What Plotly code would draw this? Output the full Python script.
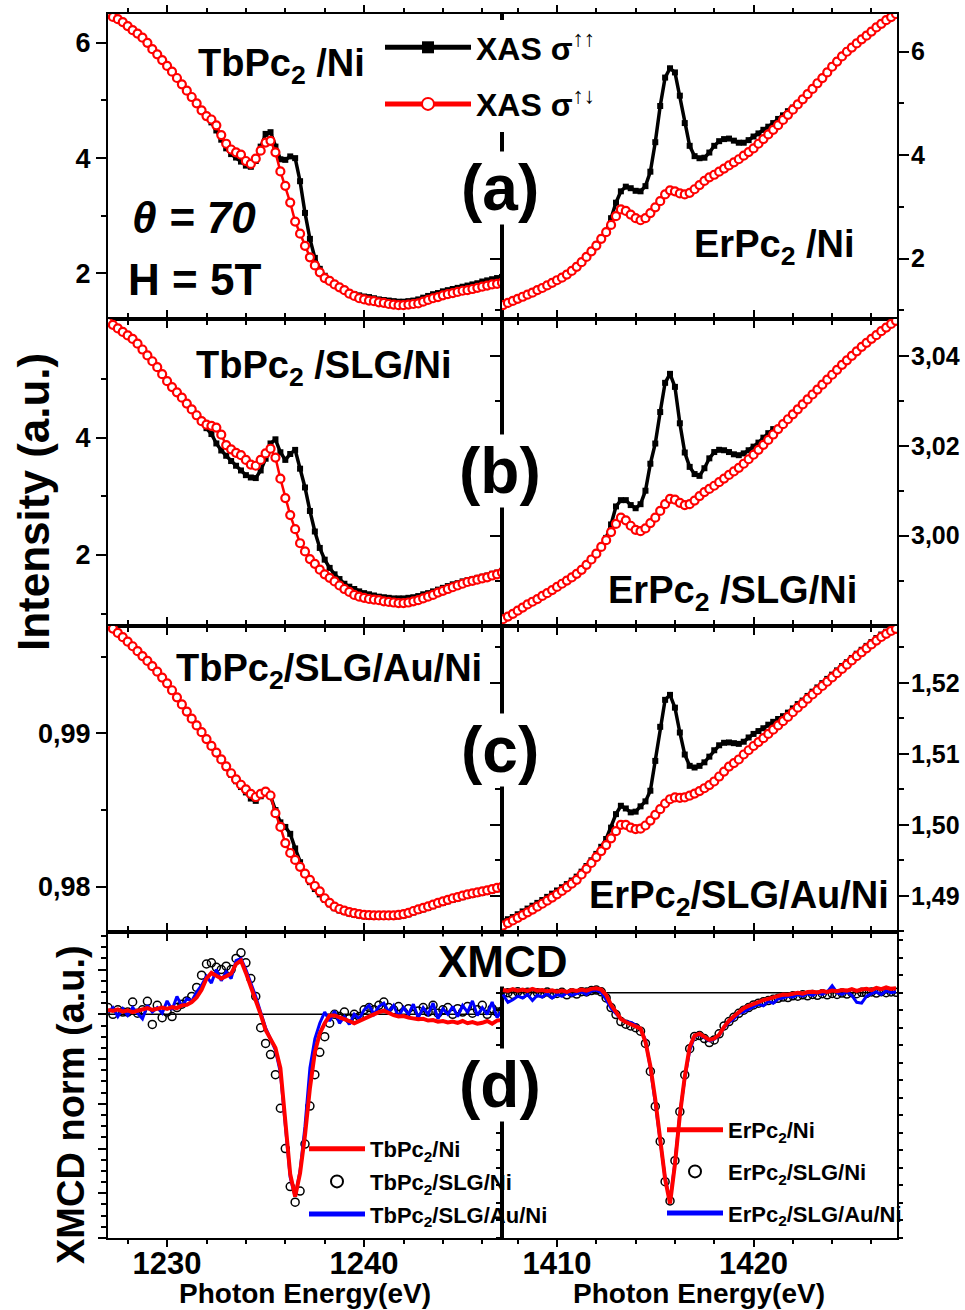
import plotly.graph_objects as go

# ---------------- data ----------------
E_TB = [
    1227.0, 1227.25, 1227.5, 1227.75, 1228.0, 1228.25, 1228.5, 1228.75,
    1229.0, 1229.25, 1229.5, 1229.75, 1230.0, 1230.25, 1230.5, 1230.75,
    1231.0, 1231.25, 1231.5, 1231.75, 1232.0, 1232.25, 1232.5, 1232.75,
    1233.0, 1233.25, 1233.5, 1233.75, 1234.0, 1234.25, 1234.5, 1234.75,
    1235.0, 1235.25, 1235.5, 1235.75, 1236.0, 1236.25, 1236.5, 1236.75,
    1237.0, 1237.25, 1237.5, 1237.75, 1238.0, 1238.25, 1238.5, 1238.75,
    1239.0, 1239.25, 1239.5, 1239.75, 1240.0, 1240.25, 1240.5, 1240.75,
    1241.0, 1241.25, 1241.5, 1241.75, 1242.0, 1242.25, 1242.5, 1242.75,
    1243.0, 1243.25, 1243.5, 1243.75, 1244.0, 1244.25, 1244.5, 1244.75,
    1245.0, 1245.25, 1245.5, 1245.75, 1246.0, 1246.25, 1246.5, 1246.75,
    1247.0]

E_ER = [
    1407.25, 1407.5, 1407.75, 1408.0, 1408.25, 1408.5, 1408.75, 1409.0,
    1409.25, 1409.5, 1409.75, 1410.0, 1410.25, 1410.5, 1410.75, 1411.0,
    1411.25, 1411.5, 1411.75, 1412.0, 1412.25, 1412.5, 1412.75, 1413.0,
    1413.25, 1413.5, 1413.75, 1414.0, 1414.25, 1414.5, 1414.75, 1415.0,
    1415.25, 1415.5, 1415.75, 1416.0, 1416.25, 1416.5, 1416.75, 1417.0,
    1417.25, 1417.5, 1417.75, 1418.0, 1418.25, 1418.5, 1418.75, 1419.0,
    1419.25, 1419.5, 1419.75, 1420.0, 1420.25, 1420.5, 1420.75, 1421.0,
    1421.25, 1421.5, 1421.75, 1422.0, 1422.25, 1422.5, 1422.75, 1423.0,
    1423.25, 1423.5, 1423.75, 1424.0, 1424.25, 1424.5, 1424.75, 1425.0,
    1425.25, 1425.5, 1425.75, 1426.0, 1426.25, 1426.5, 1426.75, 1427.0,
    1427.25]

# (a) TbPc2/Ni
TB_A_PAR = [
    6.49, 6.44, 6.40, 6.35, 6.28, 6.21, 6.15, 6.08,
    5.99, 5.88, 5.79, 5.69, 5.59, 5.49, 5.38, 5.27,
    5.16, 5.05, 4.94, 4.82, 4.71, 4.62, 4.48, 4.32,
    4.17, 4.07, 4.01, 3.94, 3.87, 3.85, 3.95, 4.20,
    4.42, 4.45, 4.20, 3.98, 3.97, 4.03, 4.00, 3.60,
    3.05, 2.60, 2.27, 2.08, 1.96, 1.88, 1.81, 1.76,
    1.72, 1.67, 1.64, 1.62, 1.60, 1.59, 1.57, 1.55,
    1.54, 1.53, 1.52, 1.51, 1.51, 1.52, 1.53, 1.55,
    1.58, 1.61, 1.64, 1.66, 1.69, 1.71, 1.73, 1.75,
    1.77, 1.79, 1.81, 1.83, 1.86, 1.88, 1.90, 1.92,
    1.94]
TB_A_ANTI = [
    6.50, 6.45, 6.41, 6.36, 6.29, 6.22, 6.16, 6.09,
    6.00, 5.89, 5.80, 5.70, 5.60, 5.50, 5.39, 5.28,
    5.17, 5.06, 4.95, 4.83, 4.73, 4.67, 4.57, 4.40,
    4.25, 4.15, 4.10, 4.06, 3.95, 3.90, 3.99, 4.13,
    4.27, 4.30, 4.10, 3.77, 3.52, 3.23, 2.90, 2.69,
    2.48, 2.28, 2.14, 2.02, 1.92, 1.87, 1.81, 1.76,
    1.71, 1.65, 1.61, 1.57, 1.55, 1.53, 1.52, 1.50,
    1.49, 1.47, 1.46, 1.45, 1.45, 1.46, 1.47, 1.48,
    1.51, 1.54, 1.57, 1.59, 1.62, 1.64, 1.66, 1.68,
    1.70, 1.71, 1.73, 1.75, 1.77, 1.79, 1.81, 1.82,
    1.84]

# (b) TbPc2/SLG/Ni
TB_B_PAR = [
    5.96, 5.91, 5.85, 5.79, 5.73, 5.67, 5.59, 5.49,
    5.39, 5.29, 5.19, 5.07, 4.95, 4.85, 4.76, 4.67,
    4.57, 4.47, 4.37, 4.27, 4.16, 4.06, 3.90, 3.78,
    3.69, 3.60, 3.52, 3.44, 3.36, 3.32, 3.31, 3.44,
    3.64, 3.90, 3.97, 3.75, 3.62, 3.72, 3.79, 3.47,
    3.15, 2.75, 2.40, 2.12, 1.92, 1.78, 1.67, 1.59,
    1.51, 1.46, 1.42, 1.38, 1.35, 1.33, 1.31, 1.29,
    1.28, 1.27, 1.26, 1.26, 1.26, 1.27, 1.28, 1.30,
    1.33, 1.35, 1.38, 1.41, 1.44, 1.47, 1.50, 1.52,
    1.55, 1.57, 1.59, 1.61, 1.63, 1.65, 1.68, 1.70,
    1.73]
TB_B_ANTI = [
    5.97, 5.92, 5.86, 5.80, 5.74, 5.68, 5.60, 5.50,
    5.40, 5.30, 5.20, 5.08, 4.96, 4.86, 4.77, 4.68,
    4.58, 4.48, 4.38, 4.28, 4.22, 4.20, 4.17, 4.05,
    3.87, 3.80, 3.74, 3.70, 3.62, 3.54, 3.52, 3.62,
    3.73, 3.81, 3.66, 3.30, 2.97, 2.68, 2.44, 2.20,
    2.06, 1.93, 1.85, 1.75, 1.67, 1.61, 1.55, 1.48,
    1.42, 1.37, 1.32, 1.29, 1.27, 1.25, 1.24, 1.23,
    1.21, 1.20, 1.19, 1.18, 1.18, 1.19, 1.21, 1.23,
    1.26, 1.29, 1.32, 1.36, 1.39, 1.42, 1.45, 1.48,
    1.51, 1.54, 1.56, 1.58, 1.60, 1.62, 1.65, 1.67,
    1.70]

# (c) TbPc2/SLG/Au/Ni
TB_C_PAR = [
    0.99705, 0.99678, 0.99650, 0.99622, 0.99593, 0.99563, 0.99531, 0.99499,
    0.99467, 0.99433, 0.99397, 0.99359, 0.99321, 0.99276, 0.99230, 0.99184,
    0.99137, 0.99091, 0.99047, 0.99003, 0.98958, 0.98913, 0.98870, 0.98825,
    0.98778, 0.98730, 0.98688, 0.98650, 0.98615, 0.98575, 0.98560, 0.98590,
    0.98610, 0.98590, 0.98500, 0.98420, 0.98390, 0.98345, 0.98250, 0.98160,
    0.98080, 0.98030, 0.97985, 0.97950, 0.97915, 0.97885, 0.97860, 0.97845,
    0.97835, 0.97825, 0.97818, 0.97812, 0.97807, 0.97805, 0.97804, 0.97803,
    0.97803, 0.97803, 0.97804, 0.97807, 0.97812, 0.97820, 0.97832, 0.97842,
    0.97852, 0.97862, 0.97873, 0.97885, 0.97895, 0.97905, 0.97915, 0.97923,
    0.97932, 0.97940, 0.97947, 0.97953, 0.97960, 0.97967, 0.97975, 0.97983,
    0.97990]
TB_C_ANTI = [
    0.99710, 0.99683, 0.99655, 0.99627, 0.99598, 0.99568, 0.99536, 0.99504,
    0.99472, 0.99438, 0.99402, 0.99364, 0.99326, 0.99281, 0.99235, 0.99189,
    0.99142, 0.99096, 0.99052, 0.99008, 0.98963, 0.98918, 0.98875, 0.98830,
    0.98785, 0.98740, 0.98700, 0.98665, 0.98635, 0.98605, 0.98585, 0.98605,
    0.98620, 0.98595, 0.98480, 0.98390, 0.98285, 0.98220, 0.98175, 0.98130,
    0.98085, 0.98045, 0.98005, 0.97970, 0.97925, 0.97895, 0.97870, 0.97855,
    0.97845, 0.97835, 0.97828, 0.97822, 0.97817, 0.97815, 0.97814, 0.97813,
    0.97813, 0.97813, 0.97814, 0.97817, 0.97822, 0.97830, 0.97842, 0.97852,
    0.97862, 0.97872, 0.97883, 0.97895, 0.97905, 0.97915, 0.97925, 0.97933,
    0.97942, 0.97950, 0.97957, 0.97963, 0.97970, 0.97977, 0.97985, 0.97993,
    0.98000]

# (a) ErPc2/Ni
ER_A_PAR = [
    1.12, 1.16, 1.20, 1.24, 1.28, 1.32, 1.36, 1.41,
    1.45, 1.50, 1.55, 1.60, 1.65, 1.71, 1.78, 1.86,
    1.95, 2.05, 2.16, 2.27, 2.40, 2.53, 2.78, 3.08,
    3.30, 3.39, 3.36, 3.31, 3.30, 3.40, 3.68, 4.25,
    4.95, 5.50, 5.68, 5.60, 5.15, 4.62, 4.18, 3.98,
    3.94, 3.95, 4.05, 4.18, 4.27, 4.31, 4.32, 4.28,
    4.24, 4.24, 4.29, 4.36, 4.42, 4.49, 4.55, 4.62,
    4.70, 4.77, 4.85, 4.92, 5.00, 5.10, 5.20, 5.30,
    5.41, 5.51, 5.62, 5.73, 5.83, 5.93, 6.02, 6.10,
    6.18, 6.26, 6.33, 6.41, 6.49, 6.56, 6.63, 6.69,
    6.75]
ER_A_ANTI = [
    1.10, 1.14, 1.18, 1.22, 1.26, 1.30, 1.34, 1.39,
    1.43, 1.48, 1.53, 1.58, 1.63, 1.69, 1.76, 1.84,
    1.93, 2.03, 2.14, 2.25, 2.38, 2.51, 2.65, 2.82,
    2.95, 2.92, 2.85, 2.78, 2.74, 2.78, 2.88, 2.99,
    3.11, 3.24, 3.32, 3.30, 3.26, 3.24, 3.27, 3.34,
    3.42, 3.50, 3.57, 3.62, 3.68, 3.74, 3.80, 3.86,
    3.92, 3.99, 4.06, 4.13, 4.22, 4.31, 4.40, 4.49,
    4.58, 4.68, 4.78, 4.88, 4.98, 5.08, 5.18, 5.28,
    5.39, 5.49, 5.60, 5.71, 5.81, 5.91, 6.00, 6.08,
    6.16, 6.24, 6.31, 6.39, 6.47, 6.54, 6.61, 6.67,
    6.73]

# (b) ErPc2/SLG/Ni
ER_B_PAR = [
    2.9816, 2.9822, 2.9828, 2.9835, 2.9842, 2.9849, 2.9855, 2.9861,
    2.9868, 2.9874, 2.9881, 2.9888, 2.9895, 2.9902, 2.9909, 2.9917,
    2.9926, 2.9937, 2.9949, 2.9962, 2.9977, 2.9995, 3.0025, 3.0065,
    3.0079, 3.0079, 3.0068, 3.0061, 3.0070, 3.0100, 3.0160, 3.0205,
    3.0275, 3.0340, 3.0360, 3.0331, 3.0250, 3.0185, 3.0153, 3.0137,
    3.0133, 3.0150, 3.0172, 3.0186, 3.0191, 3.0190, 3.0186, 3.0181,
    3.0179, 3.0183, 3.0190, 3.0198, 3.0207, 3.0218, 3.0228, 3.0237,
    3.0239, 3.0250, 3.0261, 3.0272, 3.0283, 3.0294, 3.0305, 3.0316,
    3.0327, 3.0338, 3.0349, 3.0360, 3.0371, 3.0382, 3.0392, 3.0402,
    3.0412, 3.0422, 3.0431, 3.0440, 3.0448, 3.0457, 3.0465, 3.0473,
    3.0480]
ER_B_ANTI = [
    2.9814, 2.9820, 2.9826, 2.9833, 2.9840, 2.9847, 2.9853, 2.9859,
    2.9866, 2.9872, 2.9879, 2.9886, 2.9893, 2.9900, 2.9907, 2.9915,
    2.9924, 2.9935, 2.9947, 2.9960, 2.9975, 2.9990, 3.0008, 3.0026,
    3.0040, 3.0034, 3.0022, 3.0013, 3.0010, 3.0016, 3.0028, 3.0040,
    3.0055, 3.0070, 3.0082, 3.0080, 3.0073, 3.0068, 3.0070, 3.0078,
    3.0088, 3.0097, 3.0104, 3.0111, 3.0119, 3.0127, 3.0135, 3.0143,
    3.0151, 3.0160, 3.0170, 3.0180, 3.0191, 3.0202, 3.0213, 3.0225,
    3.0237, 3.0248, 3.0259, 3.0270, 3.0281, 3.0292, 3.0303, 3.0314,
    3.0325, 3.0336, 3.0347, 3.0358, 3.0369, 3.0380, 3.0390, 3.0400,
    3.0410, 3.0420, 3.0429, 3.0438, 3.0446, 3.0455, 3.0463, 3.0471,
    3.0478]

# (c) ErPc2/SLG/Au/Ni
ER_C_PAR = [
    1.48640, 1.48670, 1.48700, 1.48740, 1.48780, 1.48820, 1.48860, 1.48900,
    1.48940, 1.48985, 1.49030, 1.49075, 1.49120, 1.49165, 1.49215, 1.49270,
    1.49340, 1.49420, 1.49500, 1.49590, 1.49690, 1.49800, 1.49960, 1.50150,
    1.50268, 1.50230, 1.50175, 1.50185, 1.50260, 1.50330, 1.50480, 1.50900,
    1.51380, 1.51760, 1.51830, 1.51650, 1.51300, 1.50990, 1.50830, 1.50807,
    1.50830, 1.50880, 1.50960, 1.51050, 1.51120, 1.51155, 1.51160, 1.51150,
    1.51140, 1.51170, 1.51230, 1.51280, 1.51320, 1.51360, 1.51410, 1.51450,
    1.51490, 1.51530, 1.51580, 1.51640, 1.51700, 1.51750, 1.51815, 1.51875,
    1.51935, 1.51995, 1.52055, 1.52115, 1.52175, 1.52235, 1.52290, 1.52350,
    1.52410, 1.52465, 1.52520, 1.52575, 1.52630, 1.52680, 1.52720, 1.52755,
    1.52780]
ER_C_ANTI = [
    1.48580, 1.48616, 1.48652, 1.48690, 1.48728, 1.48767, 1.48806, 1.48846,
    1.48888, 1.48931, 1.48975, 1.49020, 1.49068, 1.49118, 1.49170, 1.49225,
    1.49300, 1.49380, 1.49462, 1.49545, 1.49630, 1.49715, 1.49810, 1.49910,
    1.50000, 1.50000, 1.49960, 1.49940, 1.49945, 1.49990, 1.50060, 1.50140,
    1.50220, 1.50300, 1.50360, 1.50385, 1.50380, 1.50385, 1.50410, 1.50440,
    1.50475, 1.50515, 1.50560, 1.50610, 1.50680, 1.50750, 1.50820, 1.50870,
    1.50920, 1.50990, 1.51050, 1.51110, 1.51165, 1.51220, 1.51280, 1.51340,
    1.51400, 1.51460, 1.51520, 1.51585, 1.51650, 1.51710, 1.51775, 1.51835,
    1.51895, 1.51955, 1.52015, 1.52075, 1.52135, 1.52195, 1.52255, 1.52315,
    1.52375, 1.52430, 1.52485, 1.52540, 1.52595, 1.52645, 1.52690, 1.52730,
    1.52760]

# (d) XMCD, Tb M5 edge
XMCD_TB_NI = [
    0.020, 0.015, 0.022, 0.012, 0.018, 0.010, 0.016, 0.022,
    0.028, 0.020, 0.026, 0.030, 0.024, 0.032, 0.028, 0.040,
    0.042, 0.055, 0.075, 0.110, 0.160, 0.185, 0.172, 0.160,
    0.170, 0.182, 0.225, 0.240, 0.185, 0.125, 0.070, 0.000,
    -0.070, -0.115, -0.150, -0.240, -0.490, -0.715, -0.815, -0.710,
    -0.540, -0.330, -0.170, -0.085, -0.040, -0.005, -0.005, -0.012,
    -0.020, -0.030, -0.040, -0.030, -0.018, -0.008, 0.000, 0.010,
    0.016, 0.005, -0.004, -0.010, -0.008, -0.015, -0.018, -0.022,
    -0.020, -0.028, -0.026, -0.033, -0.030, -0.036, -0.032, -0.038,
    -0.030, -0.040, -0.035, -0.042, -0.038, -0.030, -0.042, -0.028,
    -0.025]
XMCD_TB_SLG = [
    0.030, 0.000, 0.020, 0.010, 0.010, 0.055, 0.005, 0.020,
    0.058, -0.045, 0.040, -0.015, 0.010, -0.010, 0.030, 0.045,
    0.060, 0.080, 0.120, 0.175, 0.225, 0.230, 0.210, 0.200,
    0.215, 0.200, 0.250, 0.275, 0.230, 0.160, 0.080, -0.060,
    -0.130, -0.180, -0.270, -0.420, -0.600, -0.770, -0.840, -0.790,
    -0.580, -0.410, -0.270, -0.170, -0.100, -0.040, 0.000, -0.010,
    0.010, -0.020, 0.000, -0.010, 0.020, 0.030, 0.020, 0.040,
    0.055, 0.030, 0.020, 0.035, 0.010, 0.025, 0.000, 0.015,
    0.030, 0.010, 0.040, 0.005, 0.020, 0.030, 0.000, 0.025,
    0.010, 0.035, 0.005, 0.020, 0.040, 0.000, 0.025, 0.010,
    0.015]
XMCD_TB_AU = [
    0.010, 0.030, -0.010, 0.025, -0.005, 0.030, 0.005, -0.020,
    0.040, 0.010, 0.030, 0.005, 0.060, 0.020, 0.080, 0.035,
    0.070, 0.060, 0.100, 0.130, 0.170, 0.140, 0.200, 0.150,
    0.190, 0.160, 0.240, 0.250, 0.200, 0.140, 0.080, 0.010,
    -0.060, -0.110, -0.160, -0.260, -0.500, -0.730, -0.815, -0.700,
    -0.500, -0.240, -0.110, -0.040, 0.010, -0.030, 0.015, -0.040,
    -0.010, -0.045, 0.000, -0.020, 0.020, 0.040, 0.000, 0.035,
    0.050, 0.010, 0.040, -0.010, 0.030, 0.000, 0.045, -0.015,
    0.030, 0.000, 0.050, -0.020, 0.025, 0.000, 0.035, -0.010,
    0.040, 0.010, 0.060, -0.005, 0.030, 0.000, 0.055, -0.015,
    0.020]

# (d) XMCD, Er M5 edge
XMCD_ER_NI = [
    0.015, 0.010, 0.020, 0.012, 0.018, 0.010, 0.022, 0.012,
    0.015, 0.008, 0.014, 0.006, 0.012, 0.004, 0.015, 0.010,
    0.018, 0.012, 0.022, 0.025, 0.018, -0.013, -0.070, -0.115,
    -0.150, -0.168, -0.180, -0.192, -0.205, -0.280, -0.420, -0.610,
    -0.820, -1.065, -1.205, -0.980, -0.700, -0.480, -0.310, -0.245,
    -0.235, -0.255, -0.270, -0.262, -0.240, -0.195, -0.160, -0.135,
    -0.110, -0.088, -0.075, -0.062, -0.050, -0.042, -0.035, -0.025,
    -0.018, -0.010, -0.012, -0.004, 0.000, -0.005, 0.004, 0.006,
    0.002, 0.010, 0.004, 0.012, 0.008, 0.015, 0.012, 0.020,
    0.010, 0.018, 0.022, 0.015, 0.028, 0.020, 0.030, 0.022,
    0.025]
XMCD_ER_SLG = [
    -0.005, 0.000, -0.010, 0.005, -0.008, 0.002, -0.012, 0.000,
    -0.006, 0.004, -0.010, -0.004, 0.002, -0.012, 0.000, -0.008,
    0.006, 0.004, 0.012, 0.015, 0.005, -0.030, -0.085, -0.125,
    -0.165, -0.180, -0.190, -0.200, -0.220, -0.290, -0.450, -0.650,
    -0.850, -1.080, -1.190, -0.960, -0.680, -0.470, -0.320, -0.250,
    -0.245, -0.262, -0.285, -0.270, -0.235, -0.190, -0.165, -0.140,
    -0.118, -0.100, -0.085, -0.070, -0.060, -0.052, -0.045, -0.038,
    -0.032, -0.025, -0.028, -0.018, -0.020, -0.012, -0.018, -0.010,
    -0.015, -0.006, -0.012, -0.004, -0.010, -0.002, -0.008, 0.000,
    -0.006, 0.002, -0.004, 0.004, -0.002, 0.006, 0.000, 0.004,
    0.002]
XMCD_ER_AU = [
    -0.010, -0.055, -0.040, -0.020, -0.030, -0.010, -0.045, -0.015,
    -0.025, -0.005, -0.030, -0.010, -0.020, 0.000, -0.015, -0.005,
    0.005, -0.010, 0.010, 0.015, 0.000, -0.040, -0.090, -0.120,
    -0.150, -0.165, -0.170, -0.185, -0.210, -0.270, -0.430, -0.630,
    -0.830, -1.060, -1.195, -0.970, -0.690, -0.490, -0.330, -0.250,
    -0.240, -0.260, -0.275, -0.265, -0.245, -0.200, -0.170, -0.150,
    -0.120, -0.110, -0.095, -0.080, -0.065, -0.075, -0.050, -0.060,
    -0.035, -0.030, -0.020, -0.025, -0.010, -0.020, -0.005, -0.015,
    0.000, -0.010, 0.005, 0.040, 0.000, -0.010, 0.005, -0.015,
    -0.055, -0.060, -0.020, -0.005, 0.005, -0.010, 0.010, 0.000,
    0.005]

SAMPLE_LABELS = ["TbPc<sub>2</sub> /Ni", "ErPc<sub>2</sub> /Ni",
                 "TbPc<sub>2</sub> /SLG/Ni", "ErPc<sub>2</sub> /SLG/Ni",
                 "TbPc<sub>2</sub>/SLG/Au/Ni", "ErPc<sub>2</sub>/SLG/Au/Ni"]
TB_NAMES = ["TbPc<sub>2</sub>/Ni", "TbPc<sub>2</sub>/SLG/Ni", "TbPc<sub>2</sub>/SLG/Au/Ni"]
ER_NAMES = ["ErPc<sub>2</sub>/Ni", "ErPc<sub>2</sub>/SLG/Ni", "ErPc<sub>2</sub>/SLG/Au/Ni"]
XAS_NAMES = ["XAS σ<sup>↑↑</sup>", "XAS σ<sup>↑↓</sup>"]

# ---------------- layout helpers ----------------
FONT = "Liberation Sans, Arial, Helvetica, sans-serif"
W, H = 965, 1310


def px(x):
    return x / W


def py(y):
    return 1 - y / H


XL = [px(108), px(502)]
XR = [px(502), px(897)]
ROWS = [(14, 319), (319, 626), (626, 932), (932, 1238)]


def ydom(r):
    top, bot = ROWS[r]
    return [py(bot), py(top)]


def xax(dom, rng, anchor, labels):
    return dict(domain=dom, range=rng, anchor=anchor, showline=True, linecolor="black",
                linewidth=2, mirror="allticks", ticks="outside", ticklen=7, tickwidth=2,
                tickcolor="black", tick0=1200, dtick=10,
                minor=dict(ticks="outside", dtick=2, tick0=1200, ticklen=4, tickwidth=1.5,
                           tickcolor="black"),
                showticklabels=labels, ticklabelstandoff=-10,
                tickfont=dict(family=FONT, size=31, color="black", weight="bold"),
                showgrid=False, zeroline=False, automargin=False, fixedrange=True)


def yax(dom, rng, anchor, side, tickvals=None, dtick=None, tick0=None, minor_dtick=None,
        minor_vals=None, fmt=None, labels=True, ticklen=10, mirror="allticks"):
    right = side == "right"
    d = dict(domain=dom, range=rng, anchor=anchor, side=side, showline=True,
             linecolor="black", linewidth=2, mirror=mirror, ticks="outside",
             ticklen=ticklen, tickwidth=2, tickcolor="black", showticklabels=labels,
             ticklabelstandoff=-3 if right else 0,
             tickfont=dict(family=FONT, size=25 if right else 27, color="black",
                           weight="bold"),
             showgrid=False, zeroline=False, automargin=False, fixedrange=True)
    if tickvals is not None:
        d.update(tickmode="array", tickvals=tickvals)
    else:
        d.update(tick0=tick0, dtick=dtick)
    if fmt:
        d["tickformat"] = fmt
    if minor_dtick is not None:
        d["minor"] = dict(ticks="outside", dtick=minor_dtick, tick0=tick0 if tick0 is not None else 0,
                          ticklen=5, tickwidth=1.5, tickcolor="black")
    if minor_vals is not None:
        d["minor"] = dict(ticks="outside", tickmode="array", tickvals=minor_vals,
                          ticklen=5, tickwidth=1.5, tickcolor="black")
    return d


fig = go.Figure()

RED = "#FF0000"
BLUE = "#0000FF"

xas_sets = [
    ("x", "y", E_TB, TB_A_PAR, TB_A_ANTI, True),
    ("x2", "y2", E_ER, ER_A_PAR, ER_A_ANTI, False),
    ("x3", "y3", E_TB, TB_B_PAR, TB_B_ANTI, False),
    ("x4", "y4", E_ER, ER_B_PAR, ER_B_ANTI, False),
    ("x5", "y5", E_TB, TB_C_PAR, TB_C_ANTI, False),
    ("x6", "y6", E_ER, ER_C_PAR, ER_C_ANTI, False),
]
for xa, ya, E, par, anti, show in xas_sets:
    fig.add_trace(go.Scatter(
        x=E, y=par, xaxis=xa, yaxis=ya, mode="lines+markers",
        line=dict(color="black", width=3.5),
        marker=dict(symbol="square", size=6, color="black"),
        name=XAS_NAMES[0], showlegend=show, legend="legend", legendgroup="par",
        legendrank=1))
    fig.add_trace(go.Scatter(
        x=E, y=anti, xaxis=xa, yaxis=ya, mode="lines+markers",
        line=dict(color=RED, width=2.5),
        marker=dict(symbol="circle", size=8, color="white", line=dict(color=RED, width=2.2)),
        name=XAS_NAMES[1], showlegend=show, legend="legend", legendgroup="anti",
        legendrank=2))

for xa, ya, E, ni, slg, au, names, leg in [
        ("x7", "y7", E_TB, XMCD_TB_NI, XMCD_TB_SLG, XMCD_TB_AU, TB_NAMES, "legend2"),
        ("x8", "y8", E_ER, XMCD_ER_NI, XMCD_ER_SLG, XMCD_ER_AU, ER_NAMES, "legend3")]:
    fig.add_trace(go.Scatter(
        x=E, y=slg, xaxis=xa, yaxis=ya, mode="markers",
        marker=dict(symbol="circle-open", size=8, color="black", line=dict(width=1.5)),
        name=names[1], legend=leg, legendgroup=leg + "b", legendrank=2))
    fig.add_trace(go.Scatter(
        x=E, y=au, xaxis=xa, yaxis=ya, mode="lines",
        line=dict(color=BLUE, width=3),
        name=names[2], legend=leg, legendgroup=leg + "c", legendrank=3))
    fig.add_trace(go.Scatter(
        x=E, y=ni, xaxis=xa, yaxis=ya, mode="lines",
        line=dict(color=RED, width=4),
        name=names[0], legend=leg, legendgroup=leg + "a", legendrank=1))

TB_RANGE = [1227.0, 1247.0]
ER_RANGE = [1407.2, 1427.3]

layout_axes = dict(
    xaxis=xax(XL, TB_RANGE, "y", False),
    xaxis2=xax(XR, ER_RANGE, "y2", False),
    xaxis3=xax(XL, TB_RANGE, "y3", False),
    xaxis4=xax(XR, ER_RANGE, "y4", False),
    xaxis5=xax(XL, TB_RANGE, "y5", False),
    xaxis6=xax(XR, ER_RANGE, "y6", False),
    xaxis7=xax(XL, TB_RANGE, "y7", True),
    xaxis8=xax(XR, ER_RANGE, "y8", True),
    yaxis=yax(ydom(0), [1.21, 6.50], "x", "left", tickvals=[2, 4, 6], minor_vals=[1, 3, 5],
              mirror=True),
    yaxis2=yax(ydom(0), [0.83, 6.73], "x2", "right", tickvals=[2, 4, 6], minor_vals=[1, 3, 5]),
    yaxis3=yax(ydom(1), [0.79, 6.02], "x3", "left", tickvals=[2, 4], minor_vals=[1, 3, 5],
               mirror=True),
    yaxis4=yax(ydom(1), [2.9799, 3.0482], "x4", "right", tickvals=[3.00, 3.02, 3.04],
               minor_vals=[2.99, 3.01, 3.03], fmt=".2f"),
    yaxis5=yax(ydom(2), [0.97705, 0.99700], "x5", "left", tickvals=[0.98, 0.99],
               minor_vals=[0.985, 0.995], fmt=".2f", mirror=True),
    yaxis6=yax(ydom(2), [1.4849, 1.5280], "x6", "right", tickvals=[1.49, 1.50, 1.51, 1.52],
               minor_vals=[1.485, 1.495, 1.505, 1.515, 1.525], fmt=".2f"),
    yaxis7=yax(ydom(3), [-1.0, 0.368], "x7", "left", dtick=0.2, tick0=0, minor_dtick=0.05,
               labels=False, ticklen=8, mirror=True),
    yaxis8=yax(ydom(3), [-1.402, 0.347], "x8", "right", dtick=0.1, tick0=0,
               labels=False, ticklen=4),
)

fig.update_layout(
    width=W, height=H, margin=dict(l=0, r=0, t=0, b=0),
    paper_bgcolor="white", plot_bgcolor="white",
    separators=",.",
    font=dict(family=FONT, color="black", weight="bold"),
    showlegend=True,
    legend=dict(x=px(380), y=py(20), xanchor="left", yanchor="top", bgcolor="white",
                borderwidth=0, itemwidth=86, itemsizing="constant", tracegroupgap=12,
                traceorder="grouped",
                font=dict(family=FONT, size=32, color="black", weight="bold")),
    legend2=dict(x=px(304), y=py(1128), xanchor="left", yanchor="top",
                 bgcolor="rgba(0,0,0,0)", borderwidth=0, itemwidth=56, itemsizing="constant",
                 tracegroupgap=1, traceorder="grouped",
                 font=dict(family=FONT, size=22, color="black", weight="bold")),
    legend3=dict(x=px(662), y=py(1109), xanchor="left", yanchor="top",
                 bgcolor="rgba(0,0,0,0)", borderwidth=0, itemwidth=56, itemsizing="constant",
                 tracegroupgap=10, traceorder="grouped",
                 font=dict(family=FONT, size=22, color="black", weight="bold")),
    **layout_axes,
)

# zero reference lines in the XMCD panels
for xa, ya in [("x7", "y7"), ("x8", "y8")]:
    fig.add_shape(type="line", xref=xa + " domain", x0=0, x1=1, yref=ya, y0=0, y1=0,
                  line=dict(color="black", width=1.5), layer="below")


def note(text, x, y, size, xanchor="left", bg=None, angle=0):
    fig.add_annotation(text=text, x=px(x), y=py(y), xref="paper", yref="paper",
                       xanchor=xanchor, yanchor="middle", showarrow=False, textangle=angle,
                       font=dict(family=FONT, size=size, color="black", weight="bold"),
                       bgcolor=bg, borderpad=0)


# sample names
note(SAMPLE_LABELS[0], 197, 66, 38)
note(SAMPLE_LABELS[1], 693, 247, 38)
note(SAMPLE_LABELS[2], 195, 368, 38)
note(SAMPLE_LABELS[3], 607, 593, 38)
note(SAMPLE_LABELS[4], 175, 671, 38)
note(SAMPLE_LABELS[5], 588, 898, 38)
note("<i>θ = 70</i>", 131, 218, 44)
note("H = 5T", 127, 279, 44)
note("XMCD", 437, 961, 44, bg="white")

# panel letters (white boxes hide the middle frame line, as in the original)
for txt, yc in [("(a)", 188), ("(b)", 471), ("(c)", 750), ("(d)", 1085)]:
    note(txt, 500, yc, 64, xanchor="center", bg="white")

# axis titles
note("Intensity (a.u.)", 33, 502, 44, xanchor="center", angle=-90)
note("XMCD norm (a.u.)", 71, 1105, 38, xanchor="center", angle=-90)
note("Photon Energy(eV)", 305, 1293, 28, xanchor="center")
note("Photon Energy(eV)", 699, 1293, 28, xanchor="center")

fig.write_html("out.html", config={"displayModeBar": False},
               post_script="document.body.style.margin='0px';")
